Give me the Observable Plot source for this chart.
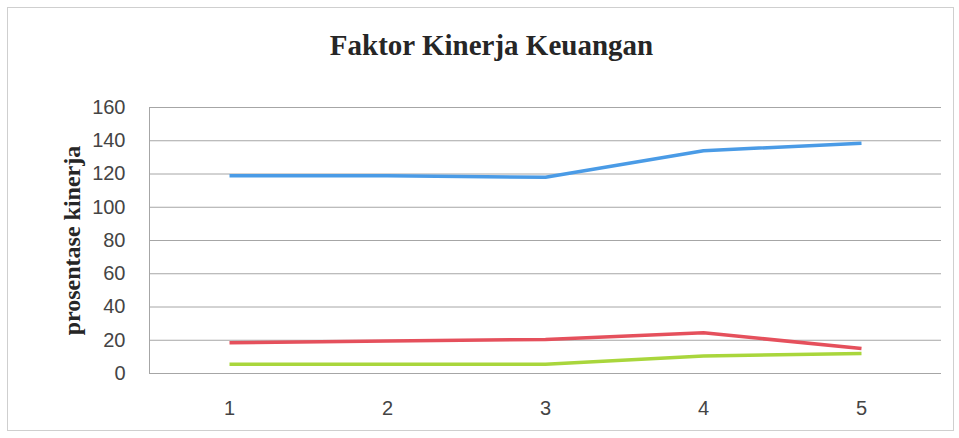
<!DOCTYPE html>
<html><head><meta charset="utf-8">
<script src="https://cdn.jsdelivr.net/npm/d3@7"></script>
<script src="https://cdn.jsdelivr.net/npm/@observablehq/plot@0.6"></script>
<style>
body{margin:0;background:#fff;}
#wrap{position:relative;width:959px;height:438px;overflow:hidden;background:#fff;}
#frame{position:absolute;left:7px;top:7px;width:947px;height:424px;border:1px solid #cfcfcf;box-sizing:border-box;}
#title{position:absolute;top:27px;left:12px;width:959px;text-align:center;font:bold 29px "Liberation Serif","Times New Roman",serif;color:#262626;line-height:36px;}
#chart{position:absolute;left:0;top:70px;}
</style>
</head><body>
<div id="wrap"><div id="frame"></div><div id="title">Faktor Kinerja Keuangan</div><div id="chart"></div></div>
<script>
const periods = [1, 2, 3, 4, 5];
const seriesA = [119, 119, 118, 134, 138.5];
const seriesB = [18.5, 19.5, 20.5, 24.5, 15];
const seriesC = [5.5, 5.5, 5.5, 10.5, 12];
const seriesNames = ["A", "B", "C"];
const seriesColors = ["#4a9be6", "#e5505c", "#a9d63c"];
const yTicks = [0, 20, 40, 60, 80, 100, 120, 140, 160];
const yLabel = "prosentase kinerja";

const allValues = [seriesA, seriesB, seriesC];
const rows = seriesNames.flatMap((name, k) => periods.map((p, i) => ({period: p, value: allValues[k][i], series: name})));

const plot = Plot.plot({
  width: 959,
  height: 360,
  marginTop: 37,
  marginBottom: 57,
  marginLeft: 149,
  marginRight: 18,
  style: {background: "transparent", fontFamily: "'Liberation Sans', Arial, sans-serif", fontSize: "20px", color: "#444"},
  x: {type: "point", domain: periods, padding: 0.5, label: null},
  y: {domain: [0, 160], label: null},
  color: {type: "ordinal", domain: seriesNames, range: seriesColors},
  marks: [
    Plot.ruleY(yTicks, {stroke: "#a6a6a6", strokeWidth: 1}),
    Plot.frame({anchor: "left", stroke: "#a6a6a6", strokeWidth: 1}),
    Plot.axisY(yTicks, {tickSize: 0, tickPadding: 24, label: null, fill: "#444", fontSize: 20}),
    Plot.axisX(periods, {tickSize: 0, tickPadding: 27, label: null, fill: "#444", fontSize: 20}),
    Plot.line(rows, {x: "period", y: "value", z: "series", stroke: "series", strokeWidth: 3.5, strokeLinejoin: "round", strokeLinecap: "butt"}),
    Plot.text([yLabel], {frameAnchor: "left", dx: -77, rotate: -90, textAnchor: "middle", fontSize: 24, fontWeight: "bold", fontFamily: "'Liberation Serif', 'Times New Roman', serif", fill: "#262626"})
  ]
});
document.getElementById("chart").appendChild(plot);
</script>
</body></html>
